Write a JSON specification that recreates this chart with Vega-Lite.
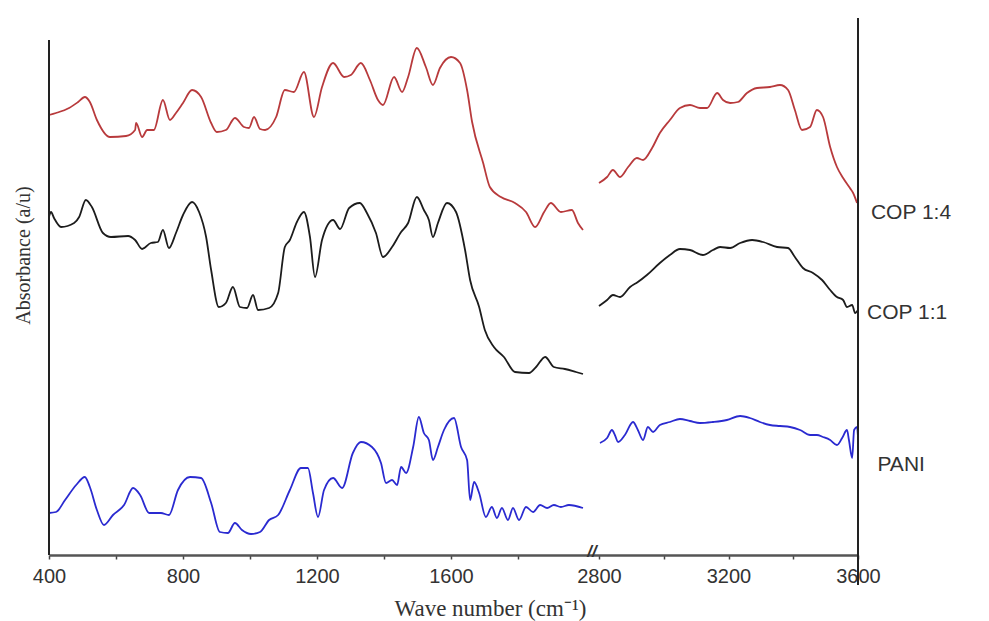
{
  "$schema": "https://vega.github.io/schema/vega-lite/v6.json",
  "width": 809,
  "height": 535,
  "autosize": {"type": "none"},
  "padding": {"left": 49, "top": 20, "right": 131, "bottom": 66},
  "background": "white",
  "config": {"view": {"stroke": null}},
  "datasets": {
    "spectra": [
      {"s":"COP 1:4","p":"L","w":400,"a":4.40},{"s":"COP 1:4","p":"L","w":421,"a":4.42},{"s":"COP 1:4","p":"L","w":460,"a":4.47},{"s":"COP 1:4","p":"L","w":487,"a":4.53},{"s":"COP 1:4","p":"L","w":507,"a":4.58},{"s":"COP 1:4","p":"L","w":522,"a":4.53},{"s":"COP 1:4","p":"L","w":543,"a":4.35},{"s":"COP 1:4","p":"L","w":582,"a":4.18},{"s":"COP 1:4","p":"L","w":630,"a":4.19},{"s":"COP 1:4","p":"L","w":657,"a":4.25},{"s":"COP 1:4","p":"L","w":660,"a":4.32},{"s":"COP 1:4","p":"L","w":678,"a":4.18},{"s":"COP 1:4","p":"L","w":693,"a":4.25},{"s":"COP 1:4","p":"L","w":713,"a":4.25},{"s":"COP 1:4","p":"L","w":740,"a":4.55},{"s":"COP 1:4","p":"L","w":761,"a":4.35},{"s":"COP 1:4","p":"L","w":779,"a":4.42},{"s":"COP 1:4","p":"L","w":800,"a":4.52},{"s":"COP 1:4","p":"L","w":827,"a":4.65},{"s":"COP 1:4","p":"L","w":854,"a":4.58},{"s":"COP 1:4","p":"L","w":884,"a":4.32},{"s":"COP 1:4","p":"L","w":901,"a":4.23},{"s":"COP 1:4","p":"L","w":928,"a":4.25},{"s":"COP 1:4","p":"L","w":955,"a":4.37},{"s":"COP 1:4","p":"L","w":982,"a":4.28},{"s":"COP 1:4","p":"L","w":997,"a":4.27},{"s":"COP 1:4","p":"L","w":1012,"a":4.38},{"s":"COP 1:4","p":"L","w":1030,"a":4.26},{"s":"COP 1:4","p":"L","w":1045,"a":4.25},{"s":"COP 1:4","p":"L","w":1078,"a":4.38},{"s":"COP 1:4","p":"L","w":1104,"a":4.65},{"s":"COP 1:4","p":"L","w":1131,"a":4.63},{"s":"COP 1:4","p":"L","w":1161,"a":4.83},{"s":"COP 1:4","p":"L","w":1191,"a":4.38},{"s":"COP 1:4","p":"L","w":1215,"a":4.68},{"s":"COP 1:4","p":"L","w":1248,"a":4.92},{"s":"COP 1:4","p":"L","w":1281,"a":4.78},{"s":"COP 1:4","p":"L","w":1301,"a":4.80},{"s":"COP 1:4","p":"L","w":1331,"a":4.92},{"s":"COP 1:4","p":"L","w":1358,"a":4.75},{"s":"COP 1:4","p":"L","w":1382,"a":4.55},{"s":"COP 1:4","p":"L","w":1397,"a":4.50},{"s":"COP 1:4","p":"L","w":1430,"a":4.78},{"s":"COP 1:4","p":"L","w":1454,"a":4.63},{"s":"COP 1:4","p":"L","w":1472,"a":4.78},{"s":"COP 1:4","p":"L","w":1498,"a":5.07},{"s":"COP 1:4","p":"L","w":1525,"a":4.88},{"s":"COP 1:4","p":"L","w":1546,"a":4.70},{"s":"COP 1:4","p":"L","w":1567,"a":4.87},{"s":"COP 1:4","p":"L","w":1600,"a":4.98},{"s":"COP 1:4","p":"L","w":1627,"a":4.92},{"s":"COP 1:4","p":"L","w":1648,"a":4.65},{"s":"COP 1:4","p":"L","w":1663,"a":4.33},{"s":"COP 1:4","p":"L","w":1696,"a":3.92},{"s":"COP 1:4","p":"L","w":1716,"a":3.68},{"s":"COP 1:4","p":"L","w":1749,"a":3.58},{"s":"COP 1:4","p":"L","w":1791,"a":3.52},{"s":"COP 1:4","p":"L","w":1824,"a":3.43},{"s":"COP 1:4","p":"L","w":1851,"a":3.28},{"s":"COP 1:4","p":"L","w":1878,"a":3.43},{"s":"COP 1:4","p":"L","w":1898,"a":3.52},{"s":"COP 1:4","p":"L","w":1928,"a":3.43},{"s":"COP 1:4","p":"L","w":1961,"a":3.45},{"s":"COP 1:4","p":"L","w":1979,"a":3.32},{"s":"COP 1:4","p":"L","w":1994,"a":3.25},
      {"s":"COP 1:4","p":"R","w":2800,"a":3.72},{"s":"COP 1:4","p":"R","w":2825,"a":3.78},{"s":"COP 1:4","p":"R","w":2843,"a":3.85},{"s":"COP 1:4","p":"R","w":2865,"a":3.78},{"s":"COP 1:4","p":"R","w":2890,"a":3.88},{"s":"COP 1:4","p":"R","w":2917,"a":3.97},{"s":"COP 1:4","p":"R","w":2936,"a":3.95},{"s":"COP 1:4","p":"R","w":2964,"a":4.07},{"s":"COP 1:4","p":"R","w":2988,"a":4.22},{"s":"COP 1:4","p":"R","w":3019,"a":4.35},{"s":"COP 1:4","p":"R","w":3050,"a":4.47},{"s":"COP 1:4","p":"R","w":3081,"a":4.50},{"s":"COP 1:4","p":"R","w":3112,"a":4.47},{"s":"COP 1:4","p":"R","w":3134,"a":4.47},{"s":"COP 1:4","p":"R","w":3165,"a":4.62},{"s":"COP 1:4","p":"R","w":3183,"a":4.55},{"s":"COP 1:4","p":"R","w":3205,"a":4.52},{"s":"COP 1:4","p":"R","w":3229,"a":4.53},{"s":"COP 1:4","p":"R","w":3257,"a":4.62},{"s":"COP 1:4","p":"R","w":3288,"a":4.67},{"s":"COP 1:4","p":"R","w":3328,"a":4.68},{"s":"COP 1:4","p":"R","w":3359,"a":4.70},{"s":"COP 1:4","p":"R","w":3384,"a":4.65},{"s":"COP 1:4","p":"R","w":3405,"a":4.45},{"s":"COP 1:4","p":"R","w":3427,"a":4.25},{"s":"COP 1:4","p":"R","w":3452,"a":4.28},{"s":"COP 1:4","p":"R","w":3473,"a":4.45},{"s":"COP 1:4","p":"R","w":3492,"a":4.38},{"s":"COP 1:4","p":"R","w":3514,"a":4.08},{"s":"COP 1:4","p":"R","w":3535,"a":3.88},{"s":"COP 1:4","p":"R","w":3554,"a":3.77},{"s":"COP 1:4","p":"R","w":3575,"a":3.67},{"s":"COP 1:4","p":"R","w":3585,"a":3.62},{"s":"COP 1:4","p":"R","w":3597,"a":3.52},
      {"s":"COP 1:1","p":"L","w":400,"a":3.38},{"s":"COP 1:1","p":"L","w":406,"a":3.43},{"s":"COP 1:1","p":"L","w":415,"a":3.37},{"s":"COP 1:1","p":"L","w":436,"a":3.28},{"s":"COP 1:1","p":"L","w":475,"a":3.32},{"s":"COP 1:1","p":"L","w":490,"a":3.38},{"s":"COP 1:1","p":"L","w":510,"a":3.55},{"s":"COP 1:1","p":"L","w":528,"a":3.48},{"s":"COP 1:1","p":"L","w":561,"a":3.22},{"s":"COP 1:1","p":"L","w":585,"a":3.18},{"s":"COP 1:1","p":"L","w":636,"a":3.19},{"s":"COP 1:1","p":"L","w":657,"a":3.15},{"s":"COP 1:1","p":"L","w":678,"a":3.06},{"s":"COP 1:1","p":"L","w":704,"a":3.12},{"s":"COP 1:1","p":"L","w":725,"a":3.13},{"s":"COP 1:1","p":"L","w":740,"a":3.25},{"s":"COP 1:1","p":"L","w":758,"a":3.07},{"s":"COP 1:1","p":"L","w":779,"a":3.22},{"s":"COP 1:1","p":"L","w":800,"a":3.40},{"s":"COP 1:1","p":"L","w":827,"a":3.53},{"s":"COP 1:1","p":"L","w":848,"a":3.43},{"s":"COP 1:1","p":"L","w":869,"a":3.18},{"s":"COP 1:1","p":"L","w":884,"a":2.85},{"s":"COP 1:1","p":"L","w":907,"a":2.48},{"s":"COP 1:1","p":"L","w":928,"a":2.52},{"s":"COP 1:1","p":"L","w":949,"a":2.68},{"s":"COP 1:1","p":"L","w":970,"a":2.48},{"s":"COP 1:1","p":"L","w":991,"a":2.47},{"s":"COP 1:1","p":"L","w":1009,"a":2.60},{"s":"COP 1:1","p":"L","w":1024,"a":2.45},{"s":"COP 1:1","p":"L","w":1057,"a":2.47},{"s":"COP 1:1","p":"L","w":1084,"a":2.62},{"s":"COP 1:1","p":"L","w":1104,"a":3.08},{"s":"COP 1:1","p":"L","w":1119,"a":3.15},{"s":"COP 1:1","p":"L","w":1140,"a":3.33},{"s":"COP 1:1","p":"L","w":1161,"a":3.43},{"s":"COP 1:1","p":"L","w":1179,"a":3.18},{"s":"COP 1:1","p":"L","w":1194,"a":2.78},{"s":"COP 1:1","p":"L","w":1215,"a":3.15},{"s":"COP 1:1","p":"L","w":1248,"a":3.35},{"s":"COP 1:1","p":"L","w":1269,"a":3.26},{"s":"COP 1:1","p":"L","w":1296,"a":3.47},{"s":"COP 1:1","p":"L","w":1328,"a":3.52},{"s":"COP 1:1","p":"L","w":1349,"a":3.42},{"s":"COP 1:1","p":"L","w":1376,"a":3.22},{"s":"COP 1:1","p":"L","w":1397,"a":2.98},{"s":"COP 1:1","p":"L","w":1424,"a":3.08},{"s":"COP 1:1","p":"L","w":1451,"a":3.23},{"s":"COP 1:1","p":"L","w":1472,"a":3.32},{"s":"COP 1:1","p":"L","w":1498,"a":3.58},{"s":"COP 1:1","p":"L","w":1519,"a":3.45},{"s":"COP 1:1","p":"L","w":1534,"a":3.35},{"s":"COP 1:1","p":"L","w":1546,"a":3.18},{"s":"COP 1:1","p":"L","w":1561,"a":3.32},{"s":"COP 1:1","p":"L","w":1588,"a":3.52},{"s":"COP 1:1","p":"L","w":1615,"a":3.43},{"s":"COP 1:1","p":"L","w":1642,"a":3.05},{"s":"COP 1:1","p":"L","w":1657,"a":2.75},{"s":"COP 1:1","p":"L","w":1684,"a":2.48},{"s":"COP 1:1","p":"L","w":1701,"a":2.25},{"s":"COP 1:1","p":"L","w":1728,"a":2.08},{"s":"COP 1:1","p":"L","w":1758,"a":1.98},{"s":"COP 1:1","p":"L","w":1791,"a":1.83},{"s":"COP 1:1","p":"L","w":1833,"a":1.82},{"s":"COP 1:1","p":"L","w":1854,"a":1.88},{"s":"COP 1:1","p":"L","w":1881,"a":1.98},{"s":"COP 1:1","p":"L","w":1907,"a":1.88},{"s":"COP 1:1","p":"L","w":1940,"a":1.86},{"s":"COP 1:1","p":"L","w":1973,"a":1.83},{"s":"COP 1:1","p":"L","w":1994,"a":1.81},
      {"s":"COP 1:1","p":"R","w":2800,"a":2.49},{"s":"COP 1:1","p":"R","w":2825,"a":2.55},{"s":"COP 1:1","p":"R","w":2843,"a":2.60},{"s":"COP 1:1","p":"R","w":2865,"a":2.58},{"s":"COP 1:1","p":"R","w":2896,"a":2.68},{"s":"COP 1:1","p":"R","w":2920,"a":2.73},{"s":"COP 1:1","p":"R","w":2948,"a":2.80},{"s":"COP 1:1","p":"R","w":2988,"a":2.92},{"s":"COP 1:1","p":"R","w":3019,"a":3.00},{"s":"COP 1:1","p":"R","w":3050,"a":3.06},{"s":"COP 1:1","p":"R","w":3081,"a":3.05},{"s":"COP 1:1","p":"R","w":3121,"a":3.00},{"s":"COP 1:1","p":"R","w":3152,"a":3.05},{"s":"COP 1:1","p":"R","w":3174,"a":3.08},{"s":"COP 1:1","p":"R","w":3205,"a":3.07},{"s":"COP 1:1","p":"R","w":3236,"a":3.12},{"s":"COP 1:1","p":"R","w":3273,"a":3.15},{"s":"COP 1:1","p":"R","w":3307,"a":3.13},{"s":"COP 1:1","p":"R","w":3350,"a":3.08},{"s":"COP 1:1","p":"R","w":3384,"a":3.07},{"s":"COP 1:1","p":"R","w":3405,"a":2.98},{"s":"COP 1:1","p":"R","w":3430,"a":2.87},{"s":"COP 1:1","p":"R","w":3461,"a":2.82},{"s":"COP 1:1","p":"R","w":3489,"a":2.75},{"s":"COP 1:1","p":"R","w":3514,"a":2.65},{"s":"COP 1:1","p":"R","w":3535,"a":2.58},{"s":"COP 1:1","p":"R","w":3554,"a":2.55},{"s":"COP 1:1","p":"R","w":3566,"a":2.48},{"s":"COP 1:1","p":"R","w":3582,"a":2.50},{"s":"COP 1:1","p":"R","w":3591,"a":2.42},{"s":"COP 1:1","p":"R","w":3600,"a":2.45},
      {"s":"PANI","p":"L","w":400,"a":0.42},{"s":"PANI","p":"L","w":421,"a":0.43},{"s":"PANI","p":"L","w":448,"a":0.55},{"s":"PANI","p":"L","w":481,"a":0.70},{"s":"PANI","p":"L","w":507,"a":0.78},{"s":"PANI","p":"L","w":522,"a":0.68},{"s":"PANI","p":"L","w":543,"a":0.45},{"s":"PANI","p":"L","w":564,"a":0.30},{"s":"PANI","p":"L","w":591,"a":0.40},{"s":"PANI","p":"L","w":624,"a":0.50},{"s":"PANI","p":"L","w":651,"a":0.67},{"s":"PANI","p":"L","w":672,"a":0.60},{"s":"PANI","p":"L","w":699,"a":0.42},{"s":"PANI","p":"L","w":734,"a":0.42},{"s":"PANI","p":"L","w":758,"a":0.40},{"s":"PANI","p":"L","w":785,"a":0.65},{"s":"PANI","p":"L","w":821,"a":0.78},{"s":"PANI","p":"L","w":854,"a":0.77},{"s":"PANI","p":"L","w":884,"a":0.52},{"s":"PANI","p":"L","w":910,"a":0.23},{"s":"PANI","p":"L","w":934,"a":0.22},{"s":"PANI","p":"L","w":955,"a":0.32},{"s":"PANI","p":"L","w":976,"a":0.25},{"s":"PANI","p":"L","w":1003,"a":0.21},{"s":"PANI","p":"L","w":1030,"a":0.23},{"s":"PANI","p":"L","w":1057,"a":0.35},{"s":"PANI","p":"L","w":1084,"a":0.40},{"s":"PANI","p":"L","w":1119,"a":0.65},{"s":"PANI","p":"L","w":1152,"a":0.87},{"s":"PANI","p":"L","w":1173,"a":0.87},{"s":"PANI","p":"L","w":1188,"a":0.62},{"s":"PANI","p":"L","w":1203,"a":0.38},{"s":"PANI","p":"L","w":1221,"a":0.65},{"s":"PANI","p":"L","w":1248,"a":0.77},{"s":"PANI","p":"L","w":1275,"a":0.67},{"s":"PANI","p":"L","w":1307,"a":1.02},{"s":"PANI","p":"L","w":1331,"a":1.13},{"s":"PANI","p":"L","w":1364,"a":1.08},{"s":"PANI","p":"L","w":1391,"a":0.92},{"s":"PANI","p":"L","w":1406,"a":0.72},{"s":"PANI","p":"L","w":1424,"a":0.75},{"s":"PANI","p":"L","w":1439,"a":0.70},{"s":"PANI","p":"L","w":1451,"a":0.88},{"s":"PANI","p":"L","w":1466,"a":0.82},{"s":"PANI","p":"L","w":1487,"a":1.08},{"s":"PANI","p":"L","w":1504,"a":1.38},{"s":"PANI","p":"L","w":1519,"a":1.22},{"s":"PANI","p":"L","w":1534,"a":1.15},{"s":"PANI","p":"L","w":1546,"a":0.95},{"s":"PANI","p":"L","w":1561,"a":1.08},{"s":"PANI","p":"L","w":1579,"a":1.25},{"s":"PANI","p":"L","w":1609,"a":1.37},{"s":"PANI","p":"L","w":1630,"a":1.08},{"s":"PANI","p":"L","w":1648,"a":0.95},{"s":"PANI","p":"L","w":1657,"a":0.55},{"s":"PANI","p":"L","w":1669,"a":0.73},{"s":"PANI","p":"L","w":1684,"a":0.62},{"s":"PANI","p":"L","w":1704,"a":0.38},{"s":"PANI","p":"L","w":1722,"a":0.48},{"s":"PANI","p":"L","w":1737,"a":0.37},{"s":"PANI","p":"L","w":1752,"a":0.47},{"s":"PANI","p":"L","w":1770,"a":0.35},{"s":"PANI","p":"L","w":1785,"a":0.47},{"s":"PANI","p":"L","w":1803,"a":0.35},{"s":"PANI","p":"L","w":1824,"a":0.48},{"s":"PANI","p":"L","w":1845,"a":0.43},{"s":"PANI","p":"L","w":1866,"a":0.50},{"s":"PANI","p":"L","w":1887,"a":0.47},{"s":"PANI","p":"L","w":1907,"a":0.50},{"s":"PANI","p":"L","w":1928,"a":0.48},{"s":"PANI","p":"L","w":1952,"a":0.50},{"s":"PANI","p":"L","w":1994,"a":0.47},
      {"s":"PANI","p":"R","w":2803,"a":1.12},{"s":"PANI","p":"R","w":2825,"a":1.17},{"s":"PANI","p":"R","w":2840,"a":1.25},{"s":"PANI","p":"R","w":2849,"a":1.20},{"s":"PANI","p":"R","w":2859,"a":1.13},{"s":"PANI","p":"R","w":2880,"a":1.20},{"s":"PANI","p":"R","w":2905,"a":1.33},{"s":"PANI","p":"R","w":2920,"a":1.25},{"s":"PANI","p":"R","w":2936,"a":1.15},{"s":"PANI","p":"R","w":2951,"a":1.28},{"s":"PANI","p":"R","w":2967,"a":1.23},{"s":"PANI","p":"R","w":2988,"a":1.30},{"s":"PANI","p":"R","w":3019,"a":1.33},{"s":"PANI","p":"R","w":3050,"a":1.36},{"s":"PANI","p":"R","w":3081,"a":1.34},{"s":"PANI","p":"R","w":3112,"a":1.32},{"s":"PANI","p":"R","w":3152,"a":1.33},{"s":"PANI","p":"R","w":3195,"a":1.35},{"s":"PANI","p":"R","w":3236,"a":1.39},{"s":"PANI","p":"R","w":3266,"a":1.37},{"s":"PANI","p":"R","w":3297,"a":1.33},{"s":"PANI","p":"R","w":3328,"a":1.30},{"s":"PANI","p":"R","w":3359,"a":1.29},{"s":"PANI","p":"R","w":3390,"a":1.28},{"s":"PANI","p":"R","w":3421,"a":1.25},{"s":"PANI","p":"R","w":3452,"a":1.20},{"s":"PANI","p":"R","w":3473,"a":1.20},{"s":"PANI","p":"R","w":3492,"a":1.18},{"s":"PANI","p":"R","w":3514,"a":1.15},{"s":"PANI","p":"R","w":3535,"a":1.10},{"s":"PANI","p":"R","w":3551,"a":1.17},{"s":"PANI","p":"R","w":3566,"a":1.25},{"s":"PANI","p":"R","w":3572,"a":1.15},{"s":"PANI","p":"R","w":3582,"a":0.97},{"s":"PANI","p":"R","w":3588,"a":1.25},{"s":"PANI","p":"R","w":3597,"a":1.28},{"s":"PANI","p":"R","w":3600,"a":1.18}
    ],
    "frame": [
      {"w": 400, "a": 0, "a2": 5.15},
      {"w": 3600, "a": -0.3, "a2": 5.37}
    ],
    "labels": [
      {"t": "COP 1:4", "w": 3640, "a": 3.42},
      {"t": "COP 1:1", "w": 3628, "a": 2.42},
      {"t": "PANI", "w": 3660, "a": 0.9}
    ],
    "brk": [
      {"t": "//", "w": 2400, "a": 0.03}
    ]
  },
  "layer": [
    {
      "data": {"name": "spectra"},
      "mark": {"type": "line", "strokeWidth": 1.8, "interpolate": "monotone", "clip": false},
      "encoding": {
        "x": {
          "field": "w", "type": "quantitative",
          "scale": {"domain": [400, 2000, 2800, 3600], "range": [0, 536, 550, 809], "nice": false, "zero": false},
          "axis": {
            "values": [400, 600, 800, 1000, 1200, 1400, 1600, 1800, 2800, 3000, 3200, 3400, 3600],
            "labelExpr": "indexof([400,800,1200,1600,2800,3200,3600], datum.value) >= 0 ? datum.label : ''",
            "format": "d",
            "grid": false,
            "domainColor": "#555",
            "domainWidth": 2.5,
            "tickColor": "#444",
            "tickSize": 4,
            "tickWidth": 1.5,
            "labelFont": "Liberation Sans",
            "labelFontSize": 20,
            "labelColor": "#333",
            "labelDx": 11,
            "labelPadding": 7,
            "labelFlush": false,
            "labelOverlap": false,
            "title": "Wave number (cm⁻¹)",
            "titleFont": "Liberation Serif",
            "titleFontSize": 23,
            "titleFontWeight": "normal",
            "titleColor": "#333",
            "titleX": 441,
            "titleY": 60,
            "titleAlign": "center",
            "titleBaseline": "alphabetic"
          }
        },
        "y": {
          "field": "a", "type": "quantitative",
          "scale": {"domain": [0, 5.35], "nice": false, "zero": false},
          "axis": {
            "title": "Absorbance (a/u)",
            "domain": false, "ticks": false, "labels": false, "grid": false,
            "titleFont": "Liberation Serif",
            "titleFontSize": 20,
            "titleFontWeight": "normal",
            "titleColor": "#333",
            "titleX": -16,
            "titleY": 235,
            "titleAngle": 270,
            "titleAlign": "center",
            "titleBaseline": "bottom"
          }
        },
        "color": {
          "field": "s", "type": "nominal",
          "scale": {"domain": ["COP 1:4", "COP 1:1", "PANI"], "range": ["#b83a3c", "#1c1c1c", "#2a2ad0"]},
          "legend": null
        },
        "detail": {"field": "p", "type": "nominal"}
      }
    },
    {
      "data": {"name": "frame"},
      "mark": {"type": "rule", "color": "#222", "strokeWidth": 2},
      "encoding": {
        "x": {"field": "w", "type": "quantitative"},
        "y": {"field": "a", "type": "quantitative"},
        "y2": {"field": "a2"}
      }
    },
    {
      "data": {"name": "labels"},
      "mark": {"type": "text", "align": "left", "baseline": "middle", "font": "Liberation Sans", "fontSize": 21, "color": "#333"},
      "encoding": {
        "x": {"field": "w", "type": "quantitative"},
        "y": {"field": "a", "type": "quantitative"},
        "text": {"field": "t"}
      }
    },
    {
      "data": {"name": "brk"},
      "mark": {"type": "text", "align": "center", "baseline": "middle", "font": "Liberation Sans", "fontSize": 17, "fontWeight": "bold", "fontStyle": "italic", "color": "#333"},
      "encoding": {
        "x": {"field": "w", "type": "quantitative"},
        "y": {"field": "a", "type": "quantitative"},
        "text": {"field": "t"}
      }
    }
  ]
}
